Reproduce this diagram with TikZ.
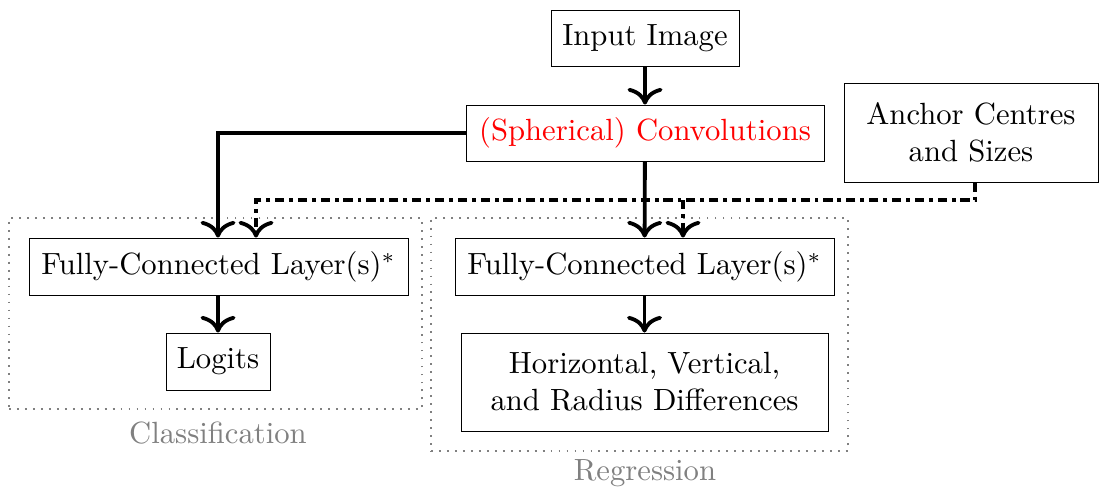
\documentclass[tikz,border=0pt]{standalone}
\usetikzlibrary{arrows.meta}
\begin{document}
\begin{tikzpicture}[x=0.326pt,y=-0.326pt,
  box/.style={draw, line width=0.3pt, inner sep=0pt, align=center},
  tip/.style={-{To[scale=1.25]}},
  arr/.style={line width=1.25pt, tip},
  anc/.style={line width=1.25pt, dash pattern=on 3pt off 1.6pt on 1.25pt off 1.6pt, tip},
  frame/.style={draw=gray, dotted, line width=0.6pt},
  lab/.style={text=gray}]
\useasboundingbox (0,0) rectangle (1099,489);
% nodes
\node[box, minimum width=188*0.326pt, minimum height=56*0.326pt] (in) at (645,38) {Input Image};
\node[box, minimum width=358*0.326pt, minimum height=56*0.326pt, text=red] (conv) at (645,133) {(Spherical) Convolutions};
\node[box, minimum width=254*0.326pt, minimum height=99*0.326pt] (anch) at (971,132.5) {Anchor Centres\\and Sizes};
\node[box, minimum width=379*0.326pt, minimum height=57*0.326pt] (fcl) at (218.5,266.5) {Fully-Connected Layer(s)$^*$};
\node[box, minimum width=104*0.326pt, minimum height=57*0.326pt] (log) at (218,361.5) {Logits};
\node[box, minimum width=379*0.326pt, minimum height=57*0.326pt] (fcr) at (644.5,266.5) {Fully-Connected Layer(s)$^*$};
\node[box, minimum width=367*0.326pt, minimum height=98*0.326pt] (hv) at (644.5,382) {Horizontal, Vertical,\\and Radius Differences};
% frames
\node[frame, minimum width=413*0.326pt, minimum height=191*0.326pt, inner sep=0pt] (cls) at (215.5,313.5) {};
\node[frame, minimum width=417*0.326pt, minimum height=233*0.326pt, inner sep=0pt] (reg) at (639.5,334.5) {};
\node[lab] (clsl) at (218,433) {Classification};
\node[lab] (regl) at (645,473) {Regression};
% coordinates
\coordinate (ac) at (975,200);
\coordinate (br) at (683,200);
% connectors
\draw[arr] (in) -- (conv);
\draw[arr] (conv.west) -| (fcl.north -| 218,0);
\draw[arr] (conv) -- (fcr);
\draw[arr] (fcl.south -| log.north) -- (log);
\draw[arr] (fcr) -- (hv);
\draw[anc] (anch.south -| ac) -- (ac) -| (fcl.north -| 256,0);
\draw[anc] (br) -- (fcr.north -| br);
\end{tikzpicture}
\end{document}
